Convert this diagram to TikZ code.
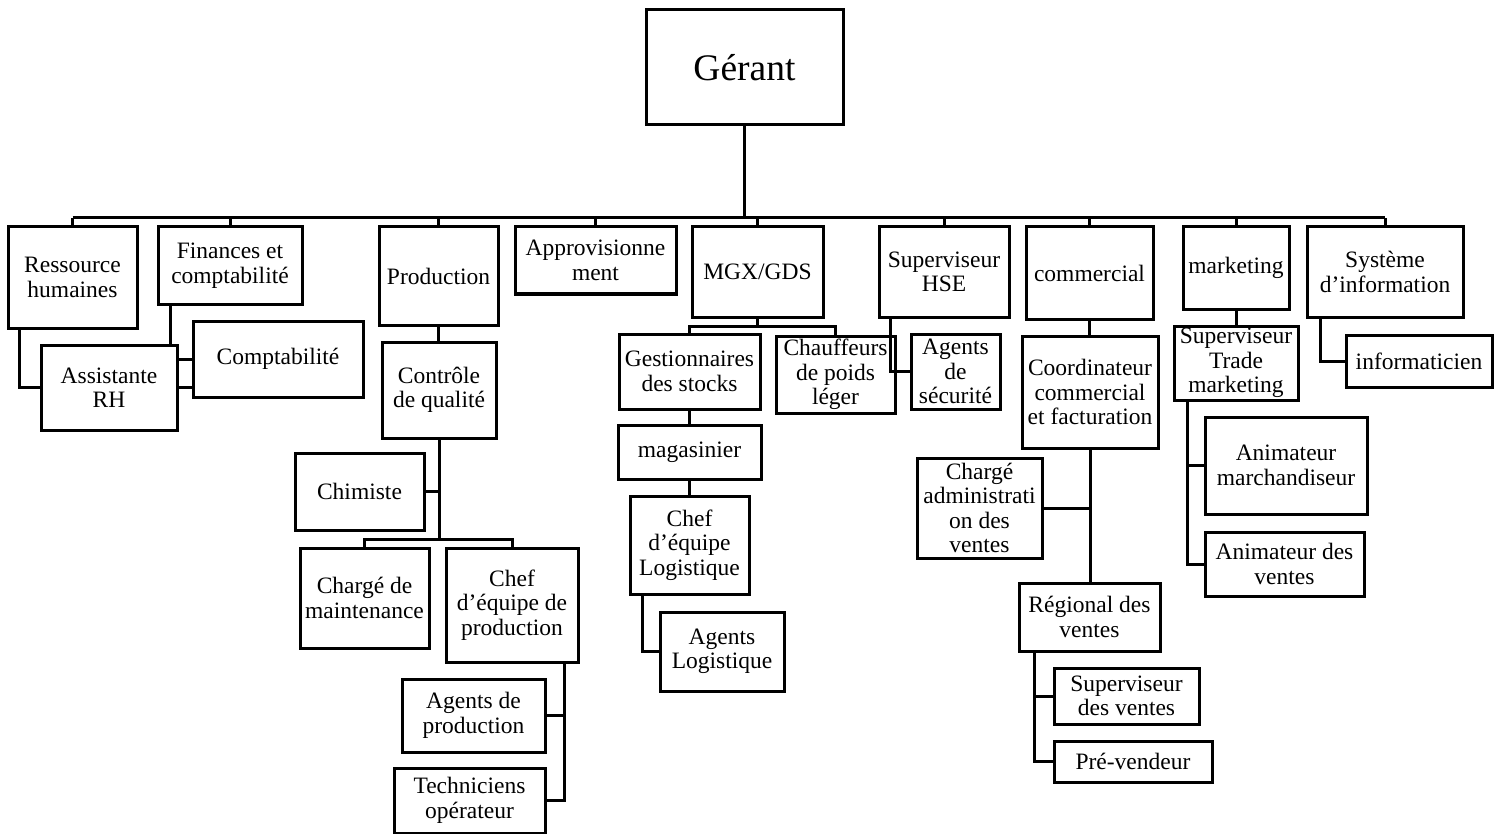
\documentclass[tikz,border=0pt]{standalone}
\usepackage{fontspec}
\setmainfont{Liberation Serif}
\tikzset{
  bx/.style={draw, line width=3pt, fill=white, inner sep=0pt, align=center,
    font=\fontsize{23.5}{24.5}\selectfont},
  ln/.style={line width=3pt}
}
\newcommand\bx[6]{%
  \pgfmathsetmacro\myW{#4-#2}\pgfmathsetmacro\myH{#5-#3}%
  \pgfmathsetmacro\myX{(#2+#4)/2}\pgfmathsetmacro\myY{(#3+#5)/2}%
  \node[bx, minimum width=\myW pt, minimum height=\myH pt] (#1) at (\myX,\myY) {#6};}
\begin{document}
\begin{tikzpicture}[x=1pt,y=-1pt]
\useasboundingbox (0,0) rectangle (1504,834);
% top level
\bx{gerant}{646}{10}{843}{125}{\fontsize{37.5}{40}\selectfont Gérant}
\bx{rh}{8}{227}{137}{328}{Ressource\\humaines}
\bx{fin}{158}{227}{302}{304}{Finances et\\comptabilité}
\bx{prod}{379}{227}{498}{325}{Production}
\bx{appro}{515}{227}{676}{294}{Approvisionne\\ment}
\bx{mgx}{692}{227}{823}{317}{MGX/GDS}
\bx{hse}{879}{227}{1009}{317}{Superviseur\\HSE}
\bx{com}{1026}{227}{1153}{319}{commercial}
\bx{mkt}{1183}{227}{1289}{309}{marketing}
\bx{si}{1307}{227}{1463}{317}{Système\\d’information}
% connectors (drawn below boxes)
\coordinate (bus) at (744.5,218);
\draw[ln] (gerant.south) -- (bus);
\draw[ln] (rh.north |- bus) -- (si.north |- bus);
\foreach \n in {rh,fin,prod,appro,mgx,hse,com,mkt,si}
  \draw[ln] (\n.north) -- (\n.north |- bus);
\draw[ln] ([xshift=13pt]rh.south west) |- (193,387.5);
\draw[ln] ([xshift=14pt]fin.south west) |- (193,359);
% production branch
\draw[ln] (prod.south) -- (prod.south |- 0,342);
\coordinate (qbus) at (439,539);
\draw[ln] (439,438) -- (qbus);
\draw[ln] (424,491.5) -- (439,491.5);
\draw[ln] (364.5,548) |- (qbus) -| (512,548);
\draw[ln] (564,662) |- (545,715.5);
\draw[ln] (564,662) |- (545,800.5);
% MGX branch
\coordinate (mbus) at (757.5,326);
\draw[ln] (mgx.south) -- (mbus);
\draw[ln] (689.5,334) |- (mbus) -| (835.5,336);
\draw[ln] (689.5,409) -- (689.5,496);
\draw[ln] (642,594) |- (660,651.5);
% commercial branch
\draw[ln] (com.south) -- (com.south |- 0,336);
\draw[ln] (1090,448) -- (1090,583);
\draw[ln] (1042,508) -- (1090,508);
\draw[ln] (1034,651) |- (1054,696);
\draw[ln] (1034,651) |- (1054,761.5);
% marketing / SI
\draw[ln] (mkt.south) -- (mkt.south |- 0,326);
\draw[ln] (1187,400) |- (1205,465.5);
\draw[ln] (1187,400) |- (1205,564);
\draw[ln] ([xshift=15pt]si.south west) |- (1346,361);
% sub boxes
\bx{asrh}{41}{345}{177}{430}{Assistante\\RH}
\bx{compta}{193}{321}{363}{397}{Comptabilité}
\bx{cq}{382}{342}{496}{438}{Contrôle\\de qualité}
\bx{chim}{295}{453}{424}{530}{Chimiste}
\bx{cm}{300}{548}{429}{648}{Chargé de\\maintenance}
\bx{cep}{446}{548}{578}{662}{Chef\\d’équipe de\\production}
\bx{ap}{402}{679}{545}{752}{Agents de\\production}
\bx{tech}{394}{768}{545}{833}{Techniciens\\opérateur}
\bx{gest}{619}{334}{760}{409}{Gestionnaires\\des stocks}
\bx{chauf}{776}{336}{895}{413}{Chauffeurs\\de poids\\léger}
\bx{mag}{618}{425}{761}{479}{magasinier}
\bx{cel}{630}{496}{749}{594}{Chef\\d’équipe\\Logistique}
\bx{al}{660}{612}{784}{691}{Agents\\Logistique}
\bx{as}{911}{334}{1000}{409}{Agents\\de\\sécurité}
\bx{coord}{1022}{336}{1158}{448}{Coordinateur\\commercial\\et facturation}
\bx{cav}{917}{458}{1042}{558}{Chargé\\administrati\\on des\\ventes}
\bx{reg}{1019}{583}{1160}{651}{Régional des\\ventes}
\bx{sv}{1054}{668}{1199}{724}{Superviseur\\des ventes}
\bx{pv}{1054}{741}{1212}{782}{Pré-vendeur}
\bx{stm}{1174}{326}{1298}{400}{Superviseur\\Trade\\marketing}
\bx{am}{1205}{417}{1367}{514}{Animateur\\marchandiseur}
\bx{av}{1205}{532}{1364}{596}{Animateur des\\ventes}
\bx{inf}{1346}{335}{1492}{387}{informaticien}
% HSE connector drawn over the Chauffeurs box
\draw[ln] ([xshift=13pt]hse.south west) |- (as.west);
\end{tikzpicture}
\end{document}
